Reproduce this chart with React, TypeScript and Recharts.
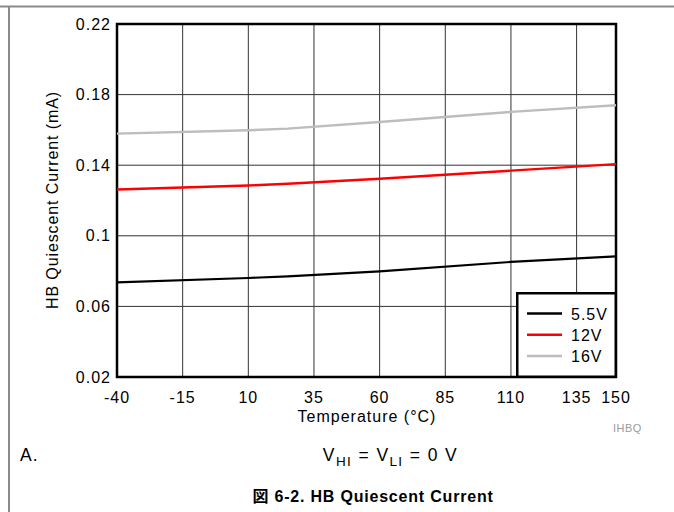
import React from 'react';
import {
  LineChart,
  Line,
  XAxis,
  YAxis,
  CartesianGrid,
  ReferenceArea,
  Legend,
} from 'recharts';

// Junction temperature (°C) at which the quiescent current was sampled
const temps = [-40, 10, 25, 60, 110, 150];
// HB quiescent current (mA) per supply voltage
const current55V = [0.0736, 0.0761, 0.077, 0.0798, 0.0852, 0.0883];
const current12V = [0.1262, 0.1285, 0.1295, 0.1323, 0.1369, 0.1406];
const current16V = [0.1579, 0.1598, 0.1607, 0.1645, 0.1702, 0.174];

const seriesNames = ['5.5V', '12V', '16V'];

const xTicks = [-40, -15, 10, 35, 60, 85, 110, 135, 150];
const yTicks = [0.02, 0.06, 0.1, 0.14, 0.18, 0.22];

const rows = temps.map((t, i) => ({
  t,
  v55: current55V[i],
  v12: current12V[i],
  v16: current16V[i],
}));

const FONT = "'Liberation Sans', Arial, Helvetica, 'Noto Sans CJK JP', sans-serif";
const W = 674;
const H = 512;

const tickStyle = { fill: '#000', fontSize: 16, fontFamily: FONT, letterSpacing: 1 };

function LegendBox(props: any) {
  const payload = [...(props.payload || [])].sort(
    (a: any, b: any) => seriesNames.indexOf(a.value) - seriesNames.indexOf(b.value)
  );
  return (
    <svg width={101} height={86} style={{ display: 'block' }}>
      <rect x={1.25} y={1.25} width={98.5} height={83.5} fill="#fff" stroke="#000" strokeWidth={2.5} />
      {payload.map((p: any, i: number) => {
        const y = 21.5 + i * 21.2;
        return (
          <g key={p.value}>
            <line x1={11} x2={46} y1={y} y2={y} stroke={p.color} strokeWidth={2.5} />
            <text x={55} y={y + 6} fontSize={16} fontFamily={FONT} letterSpacing={1} fill="#000">
              {p.value}
            </text>
          </g>
        );
      })}
    </svg>
  );
}

export default function App() {
  return (
    <div style={{ position: 'absolute', left: 0, top: 0, width: W, height: H, background: '#fff' }}>
      <LineChart
        width={W}
        height={H}
        data={rows}
        margin={{ top: 24, right: 58, bottom: 105, left: 17 }}
      >
        <CartesianGrid stroke="#333" strokeWidth={1} />
        <XAxis
          dataKey="t"
          type="number"
          domain={[-40, 150]}
          ticks={xTicks}
          interval={0}
          height={30}
          axisLine={false}
          tickLine={false}
          tickSize={0}
          tickMargin={15}
          tick={tickStyle}
        />
        <YAxis
          type="number"
          domain={[0.02, 0.22]}
          ticks={yTicks}
          interval={0}
          width={100}
          axisLine={false}
          tickLine={false}
          tickSize={0}
          tickMargin={6}
          tick={tickStyle}
        />
        <Line dataKey="v55" name={seriesNames[0]} stroke="#000" strokeWidth={2.2} dot={false} isAnimationActive={false} />
        <Line dataKey="v12" name={seriesNames[1]} stroke="#ff0000" strokeWidth={2.4} dot={false} isAnimationActive={false} />
        <Line dataKey="v16" name={seriesNames[2]} stroke="#bdbdbd" strokeWidth={2.4} dot={false} isAnimationActive={false} />
        <ReferenceArea
          x1={-40}
          x2={150}
          y1={0.02}
          y2={0.22}
          fill="none"
          stroke="#000"
          strokeWidth={2.5}
          ifOverflow="visible"
        />
        <Legend
          layout="vertical"
          align="center"
          verticalAlign="middle"
          content={<LegendBox />}
          wrapperStyle={{ position: 'absolute', left: 516, top: 292, width: 101, height: 86 }}
        />
      </LineChart>
      <svg
        width={W}
        height={H}
        style={{ position: 'absolute', left: 0, top: 0, pointerEvents: 'none' }}
        fontFamily={FONT}
      >
        <line x1={0} x2={W} y1={6.5} y2={6.5} stroke="#8a8a8a" strokeWidth={2} />
        <line x1={9} x2={9} y1={6} y2={H} stroke="#8a8a8a" strokeWidth={2} />
        <text
          x={52}
          y={200}
          transform="rotate(-90 52 200)"
          textAnchor="middle"
          dominantBaseline="central"
          fontSize={16}
          letterSpacing={0.9}
          fill="#000"
        >
          HB Quiescent Current (mA)
        </text>
        <text x={367} y={421.5} textAnchor="middle" fontSize={16} letterSpacing={1} fill="#000">
          Temperature (°C)
        </text>
        <text x={613} y={432} fontSize={11} letterSpacing={0.5} fill="#9a9a9a">
          IHBQ
        </text>
        <text x={20} y={461} fontSize={17.5} letterSpacing={1} fill="#000">
          A.
        </text>
        <text x={390.5} y={461} textAnchor="middle" fontSize={17.5} letterSpacing={1.4} fill="#000">
          V
          <tspan fontSize={13.5} dy={4.5}>HI</tspan>
          <tspan dy={-4.5}> = V</tspan>
          <tspan fontSize={13.5} dy={4.5}>LI</tspan>
          <tspan dy={-4.5}> = 0 V</tspan>
        </text>
        <text x={373} y={502} textAnchor="middle" fontSize={16} fontWeight="bold" letterSpacing={0.8} fill="#000">
          図 6-2. HB Quiescent Current
        </text>
      </svg>
    </div>
  );
}
